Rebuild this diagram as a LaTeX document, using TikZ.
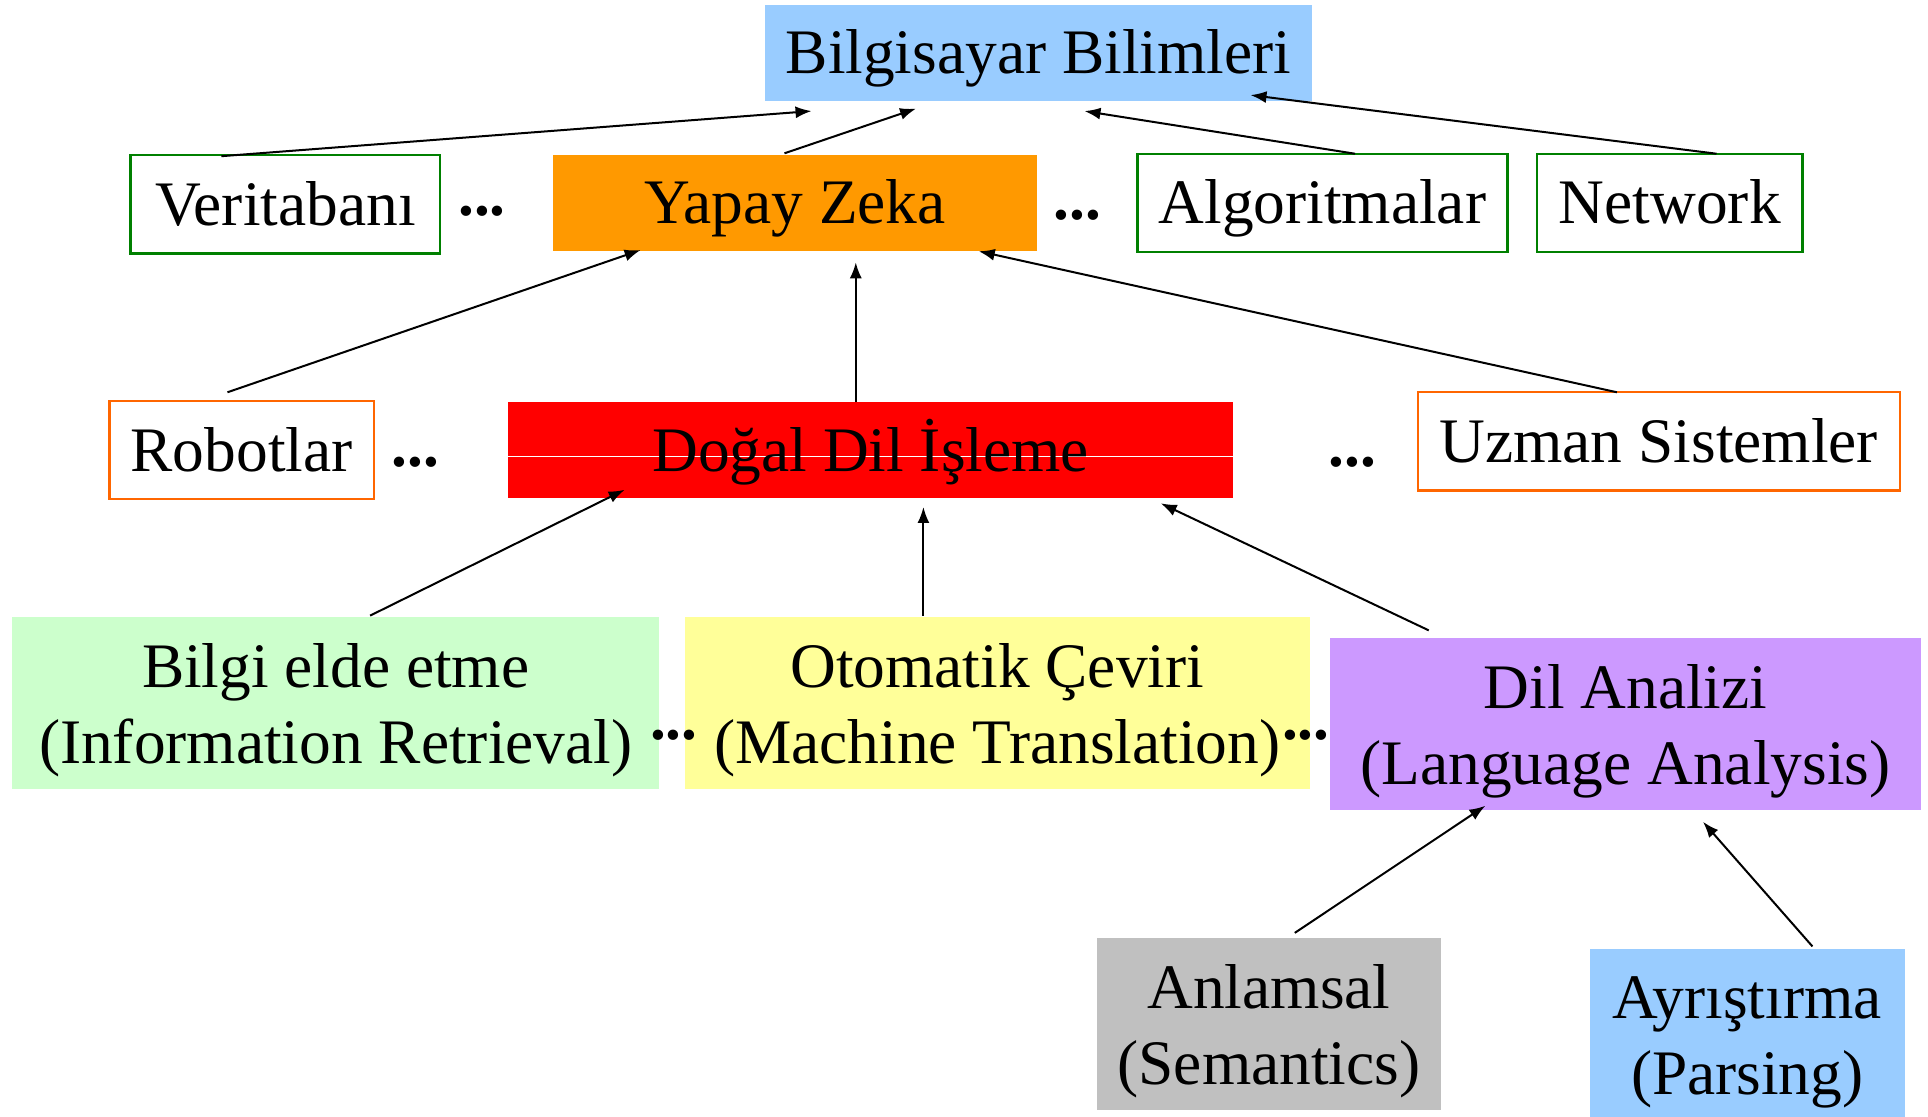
\documentclass[tikz,border=0pt]{standalone}
\usepackage{fontspec}
\setmainfont{Liberation Serif}
\usetikzlibrary{arrows.meta,calc}
\definecolor{cblue}{HTML}{99CCFF}
\definecolor{corange}{HTML}{FF9900}
\definecolor{cred}{HTML}{FF0000}
\definecolor{cgreenb}{HTML}{008000}
\definecolor{corangeb}{HTML}{FF6600}
\definecolor{cmint}{HTML}{CCFFCC}
\definecolor{cyellow}{HTML}{FFFF99}
\definecolor{cpurple}{HTML}{CC99FF}
\definecolor{cgrey}{HTML}{C0C0C0}
\tikzset{
  txt/.style={font=\fontsize{31.7}{38}\selectfont, align=center, inner sep=0pt, text depth=0pt},
  one/.style={text height=21pt},
  filled/.style={txt, rectangle, draw=none, fill=#1},
  gbox/.style={txt, one, rectangle, draw=cgreenb, line width=1.2pt, fill=white},
  obox/.style={txt, one, rectangle, draw=corangeb, line width=1.2pt, fill=white},
  dots/.style={font=\fontsize{31.7}{38}\selectfont\bfseries, inner sep=0pt},
  arr/.style={line width=1pt, -{Latex[length=8pt,width=6pt]}},
}
\begin{document}
\begin{tikzpicture}[x=0.6148pt,y=-0.6148pt]
\useasboundingbox (0,0) rectangle (1568,908);
\fill[white] (0,0) rectangle (1568,908);
% top
\node[filled=cblue, one, minimum width=445*0.6148pt, minimum height=78*0.6148pt] (bb) at (844.5,43) {Bilgisayar Bilimleri};
% row 2
\node[gbox, minimum width=252*0.6148pt, minimum height=80*0.6148pt] (vt) at (232,166) {Veritabanı};
\node[filled=corange, one, minimum width=393*0.6148pt, minimum height=78*0.6148pt] (yz) at (646.5,165) {Yapay Zeka};
\node[gbox, minimum width=301*0.6148pt, minimum height=80*0.6148pt] (al) at (1075.5,165) {Algoritmalar};
\node[gbox, minimum width=216*0.6148pt, minimum height=80*0.6148pt] (nw) at (1358,165) {Network};
\node[dots] (d1) at (392,172) {...};
\node[dots] (d2) at (876,175) {...};
% row 3
\node[obox, minimum width=215*0.6148pt, minimum height=80*0.6148pt] (rb) at (196.5,366) {Robotlar};
\node[filled=cred, minimum width=590*0.6148pt, minimum height=78*0.6148pt] (dd) at (708,366) {};
\draw[white, line width=0.6pt] (dd.west |- 0,371) -- (dd.east |- 0,371);
\node[txt, one] (ddt) at (dd.center) {Doğal Dil İşleme};
\node[obox, minimum width=392*0.6148pt, minimum height=80*0.6148pt] (us) at (1349,359) {Uzman Sistemler};
\node[dots] (d3) at (338,376) {...};
\node[dots] (d4) at (1100,376) {...};
% row 4
\node[filled=cmint, minimum width=526*0.6148pt, minimum height=140*0.6148pt] (be) at (273,572) {Bilgi elde etme\\(Information Retrieval)};
\node[filled=cyellow, minimum width=508*0.6148pt, minimum height=140*0.6148pt] (oc) at (811,572) {Otomatik Çeviri\\(Machine Translation)};
\node[filled=cpurple, minimum width=480*0.6148pt, minimum height=140*0.6148pt] (da) at (1322,589) {Dil Analizi\\(Language Analysis)};
\node[dots] (d5) at (548,598) {...};
\node[dots] (d6) at (1062,598) {...};
% row 5
\node[filled=cgrey, minimum width=280*0.6148pt, minimum height=140*0.6148pt] (an) at (1032,833) {Anlamsal\\(Semantics)};
\node[filled=cblue, minimum width=256*0.6148pt, minimum height=140*0.6148pt] (ay) at (1421,842) {Ayrıştırma\\(Parsing)};
% arrows
\draw[arr] ($(vt.north)+(-52,2)$) -- ($(bb.south)+(-184.5,8)$);
\draw[arr] ($(yz.north)+(-8.5,-1)$) -- ($(bb.south)+(-99.5,6)$);
\draw[arr] ($(al.north)+(26.5,1)$) -- ($(bb.south)+(37.5,8)$);
\draw[arr] ($(nw.north)+(38,1)$) -- ($(bb.south)+(172.5,-5)$);
\draw[arr] ($(rb.north)+(-11.5,-6)$) -- ($(yz.south)+(-125.5,-1)$);
\draw[arr] ($(dd.north)+(-12,0)$) -- ($(yz.south)+(49.5,9)$);
\draw[arr] ($(us.north)+(-34,1)$) -- ($(yz.south)+(149.5,0)$);
\draw[arr] ($(be.north)+(28,-1)$) -- ($(dd.south)+(-200,-7)$);
\draw[arr] ($(oc.north)+(-60,-1)$) -- ($(dd.south)+(43,7)$);
\draw[arr] ($(da.north)+(-160,-6)$) -- ($(dd.south)+(236,4)$);
\draw[arr] ($(an.north)+(21,-4)$) -- ($(da.south)+(-114,-4)$);
\draw[arr] ($(ay.north)+(53,-2)$) -- ($(da.south)+(63,9)$);
\end{tikzpicture}
\end{document}
